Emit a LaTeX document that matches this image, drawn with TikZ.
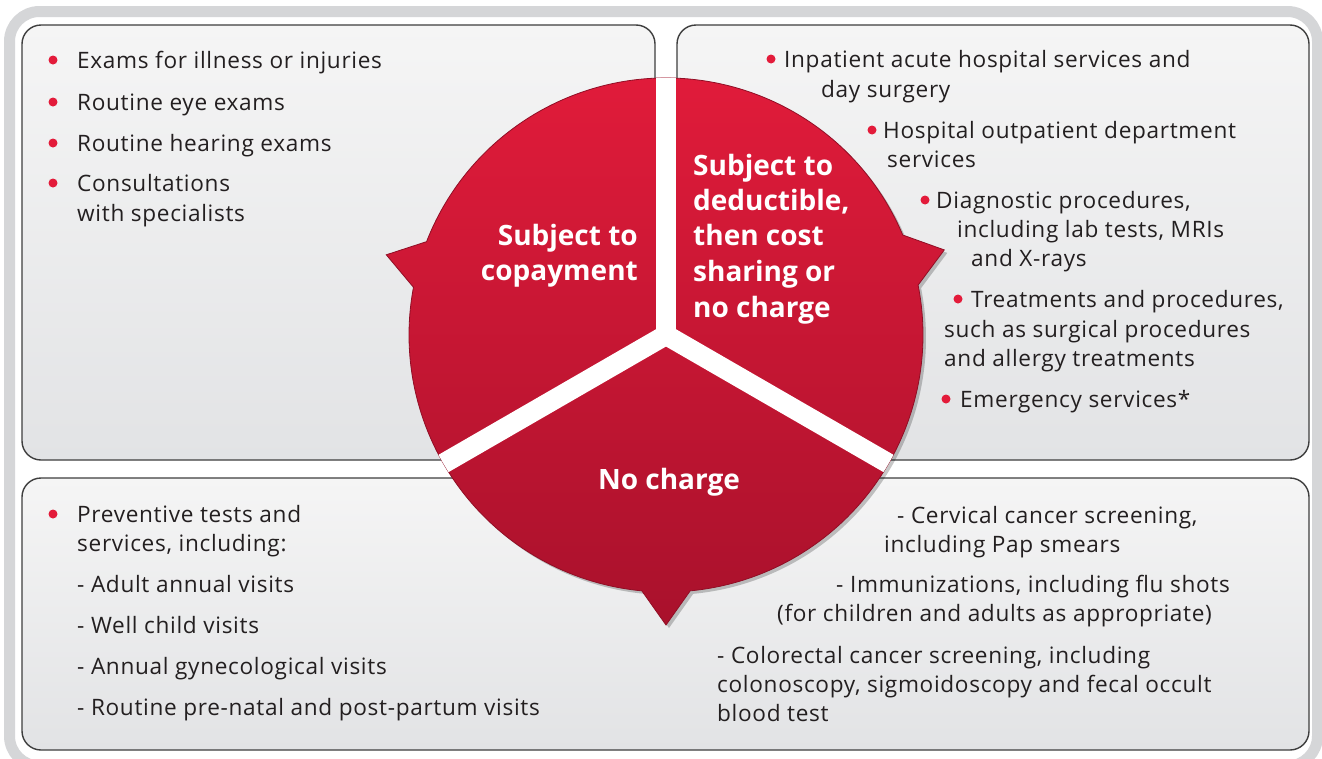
\documentclass[tikz,border=0pt]{standalone}
\usepackage{fontspec}
\setmainfont{Open Sans}
\newfontfamily\bodyface{Open Sans}[LetterSpace=3]
\newfontfamily\headface{Open Sans}

\definecolor{ink}{HTML}{231F20}
\definecolor{redtop}{HTML}{E41C3B}
\definecolor{redbot}{HTML}{A9112C}
\definecolor{bulred}{HTML}{E31B3A}
\definecolor{panelline}{HTML}{3E3E3E}
\definecolor{paneltop}{HTML}{F5F5F5}
\definecolor{panelbot}{HTML}{E2E3E5}
\definecolor{framegray}{HTML}{D5D6D8}

\begin{document}
\begin{tikzpicture}[x=1pt, y=1pt,
panel/.style={rectangle, rounded corners=19pt, draw=panelline, line width=1.4pt, top color=paneltop, bottom color=panelbot, inner sep=0pt, outer sep=0pt},
item/.style={anchor=base west, inner sep=0pt, text=ink, font=\bodyface\fontsize{22.6}{26}\selectfont},
head/.style={inner sep=0pt, text=white, font=\headface\bfseries\fontsize{28}{34}\selectfont},
bul/.style={fill=bulred},
sep/.style={draw=white, line width=20pt, line cap=round},
]
\useasboundingbox (0,0) rectangle (1322,-758);
\clip (0,0) rectangle (1322,-758);
\fill[white] (0,0) rectangle (1322,-758);
\draw[framegray, line width=11pt, rounded corners=30pt] (9.5,-11.5) rectangle (1317.5,-766);

\node[panel, minimum width=633pt, minimum height=435pt] (tlbox) at (338.5,-242.5) {};
\node[panel, minimum width=632pt, minimum height=435pt] (trbox) at (993,-242.5) {};
\node[panel, minimum width=1287pt, minimum height=272pt] (botbox) at (665.5,-614) {};

\coordinate (c) at (666,-335);
\path[top color=redtop, bottom color=redbot, draw=redbot!85!black, line width=0.8pt,
  preaction={fill=black, opacity=0.22, transform canvas={shift={(3pt,-3pt)}}}]
  ([shift={(22.9:257pt)}]c) arc[start angle=22.9, end angle=158.7, radius=257pt]
  -- ([shift={(164:291pt)}]c) -- ([shift={(169.3:257pt)}]c)
  arc[start angle=169.3, end angle=264.6, radius=257pt]
  -- ([shift={(270:290pt)}]c) -- ([shift={(275.4:257pt)}]c)
  arc[start angle=275.4, end angle=371.2, radius=257pt]
  -- ([shift={(17:291pt)}]c) -- cycle;
\begin{scope}
\clip (c) circle[radius=257pt];
\draw[sep] (c) -- ++(90:270pt);
\draw[sep] (c) -- ++(210:270pt);
\draw[sep] (c) -- ++(330:270pt);
\end{scope}

\node[head, anchor=base east] (copay1) at (638,-245) {Subject to};
\node[head, anchor=base east] (copay2) at (638,-280) {copayment};
\node[head, anchor=base west] (deduct1) at (693,-175) {Subject to};
\node[head, anchor=base west] (deduct2) at (693,-210) {deductible,};
\node[head, anchor=base west] (deduct3) at (693,-245) {then cost};
\node[head, anchor=base west] (deduct4) at (693,-281) {sharing or};
\node[head, anchor=base west] (deduct5) at (693,-317) {no charge};
\node[head, anchor=base] (nocharge) at (669,-489) {No charge};

\node[item] (tl1) at (77,-68) {Exams for illness or injuries};
\node[item] (tl2) at (77,-110) {Routine eye exams};
\node[item] (tl3) at (77,-151) {Routine hearing exams};
\node[item] (tl4) at (77,-191) {Consultations};
\node[item] (tl5) at (77,-221) {with specialists};
\fill[bul] (53,-60) circle[radius=4.5];
\fill[bul] (53,-102) circle[radius=4.5];
\fill[bul] (53,-143) circle[radius=4.5];
\fill[bul] (53,-183) circle[radius=4.5];

\node[item] (tr1) at (784,-67) {Inpatient acute hospital services and};
\node[item] (tr2) at (821,-97) {day surgery};
\node[item] (tr3) at (883,-138) {Hospital outpatient department};
\node[item] (tr4) at (887,-167) {services};
\node[item] (tr5) at (936,-208) {Diagnostic procedures,};
\node[item] (tr6) at (957,-237) {including lab tests, MRIs};
\node[item] (tr7) at (971,-266) {and X-rays};
\node[item] (tr8) at (971,-307) {Treatments and procedures,};
\node[item] (tr9) at (944,-337) {such as surgical procedures};
\node[item] (tr10) at (944,-366) {and allergy treatments};
\node[item] (tr11) at (960,-407) {Emergency services*};
\fill[bul] (771,-59) circle[radius=4.5];
\fill[bul] (872,-130) circle[radius=4.5];
\fill[bul] (925,-200) circle[radius=4.5];
\fill[bul] (958,-299) circle[radius=4.5];
\fill[bul] (946,-399) circle[radius=4.5];

\node[item] (bl1) at (77,-522) {Preventive tests and};
\node[item] (bl2) at (77,-551) {services, including:};
\node[item] (bl3) at (77,-592) {- Adult annual visits};
\node[item] (bl4) at (77,-633) {- Well child visits};
\node[item] (bl5) at (77,-674) {- Annual gynecological visits};
\node[item] (bl6) at (77,-715) {- Routine pre-natal and post-partum visits};
\fill[bul] (53,-514) circle[radius=4.5];

\node[item] (br1) at (897,-523) {- Cervical cancer screening,};
\node[item] (br2) at (884,-552) {including Pap smears};
\node[item] (br3) at (836,-592) {- Immunizations, including flu shots};
\node[item] (br4) at (777,-621) {(for children and adults as appropriate)};
\node[item] (br5) at (717,-663) {- Colorectal cancer screening, including};
\node[item] (br6) at (717,-692) {colonoscopy, sigmoidoscopy and fecal occult};
\node[item] (br7) at (717,-721) {blood test};
\end{tikzpicture}
\end{document}
